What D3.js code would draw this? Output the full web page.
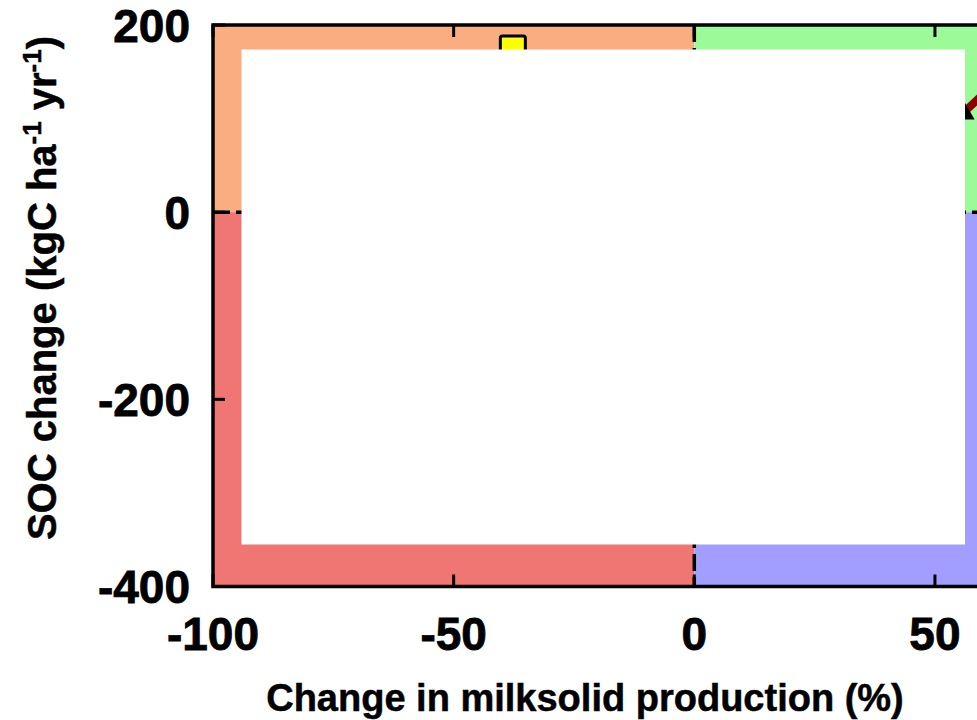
<!DOCTYPE html>
<html><head><meta charset="utf-8">
<script src="https://cdn.jsdelivr.net/npm/d3@7"></script>
<style>html,body{margin:0;padding:0;background:#fff;overflow:hidden}svg{display:block}</style>
</head><body>
<script>
// Data
const xTicks = [-100, -50, 0, 50, 100];
const yTicks = [-400, -200, 0, 200];
const xDomain = [-100, 100];
const yDomain = [-400, 200];
const quadrants = [
  {x0: -100, x1: 0, y0: 0, y1: 200, color: "#FBAD82"},
  {x0: 0, x1: 100, y0: 0, y1: 200, color: "#9CFB98"},
  {x0: -100, x1: 0, y0: -400, y1: 0, color: "#EF7673"},
  {x0: 0, x1: 100, y0: -400, y1: 0, color: "#A29EFF"}
];
const squarePoints = [{x: -37.7, y: 175}];
const linePoints = [{x: 55.9, y: 106}, {x: 70, y: 175}];
const xTitle = "Change in milksolid production (%)";

const W = 977, H = 720;
const svg = d3.select("body").append("svg").attr("width", W).attr("height", H);
const x = d3.scaleLinear().domain(xDomain).range([213, 1175.6]);
const y = d3.scaleLinear().domain(yDomain).range([586.5, 25]);

// quadrants
svg.selectAll("rect.q").data(quadrants).enter().append("rect")
  .attr("x", d => x(d.x0)).attr("y", d => y(d.y1))
  .attr("width", d => x(d.x1) - x(d.x0)).attr("height", d => y(d.y0) - y(d.y1))
  .attr("fill", d => d.color);

// zero lines dashed
svg.append("line").attr("x1", x(-100)).attr("x2", x(100)).attr("y1", y(0)).attr("y2", y(0))
  .attr("stroke", "#000").attr("stroke-width", 3.5).attr("stroke-dasharray", "17,6");
svg.append("line").attr("y1", y(200)).attr("y2", y(-400)).attr("x1", x(0)).attr("x2", x(0))
  .attr("stroke", "#000").attr("stroke-width", 3.5).attr("stroke-dasharray", "17,6");

// line series
svg.append("path").datum(linePoints)
  .attr("d", d3.line().x(d => x(d.x)).y(d => y(d.y)))
  .attr("fill", "none").attr("stroke", "#8B0000").attr("stroke-width", 8);
svg.selectAll("path.tri").data(linePoints.slice(0,1)).enter().append("path")
  .attr("transform", d => `translate(${x(d.x)},${y(d.y)})`)
  .attr("d", d3.symbol().type(d3.symbolTriangle).size(220))
  .attr("fill", "#000");

// square markers
svg.selectAll("rect.sq").data(squarePoints).enter().append("rect")
  .attr("x", d => x(d.x) - 12.5).attr("y", d => y(d.y) - 12.5)
  .attr("width", 25).attr("height", 25).attr("rx", 2)
  .attr("fill", "#FFFF00").attr("stroke", "#000").attr("stroke-width", 3);

// white occluding box
svg.append("rect").attr("x", 241.5).attr("y", 49.5).attr("width", 723.5).attr("height", 495).attr("fill", "#fff");

// inner ticks
const tl = 12;
const g = svg.append("g").attr("stroke", "#000").attr("stroke-width", 3);
xTicks.forEach(t => {
  g.append("line").attr("x1", x(t)).attr("x2", x(t)).attr("y1", y(200)).attr("y2", y(200) + tl);
  g.append("line").attr("x1", x(t)).attr("x2", x(t)).attr("y1", y(-400)).attr("y2", y(-400) - tl);
});
yTicks.forEach(t => {
  g.append("line").attr("x1", x(-100)).attr("x2", x(-100) + tl).attr("y1", y(t)).attr("y2", y(t));
});

// frame
svg.append("rect").attr("x", x(-100)).attr("y", y(200)).attr("width", x(100) - x(-100)).attr("height", y(-400) - y(200))
  .attr("fill", "none").attr("stroke", "#000").attr("stroke-width", 3.5);

const font = "'Liberation Sans', Arial, sans-serif";
// tick labels
svg.selectAll("text.yt").data(yTicks).enter().append("text")
  .attr("x", 190).attr("y", d => y(d)).attr("dy", "0.36em")
  .attr("text-anchor", "end").attr("font-family", font).attr("font-weight", "bold").attr("font-size", 46)
  .attr("stroke", "#000").attr("stroke-width", 0.8)
  .text(d => d);
svg.selectAll("text.xt").data(xTicks.filter(t => x(t) < W - 20)).enter().append("text")
  .attr("x", d => x(d)).attr("y", 650)
  .attr("text-anchor", "middle").attr("font-family", font).attr("font-weight", "bold").attr("font-size", 46)
  .attr("stroke", "#000").attr("stroke-width", 0.8)
  .text(d => d);

// axis titles
svg.append("text").attr("x", 585).attr("y", 711).attr("text-anchor", "middle")
  .attr("font-family", font).attr("font-weight", "bold").attr("font-size", 38)
  .attr("stroke", "#000").attr("stroke-width", 0.5).text(xTitle);
const yt = svg.append("text").attr("transform", "translate(56,288) rotate(-90)").attr("text-anchor", "middle")
  .attr("font-family", font).attr("font-weight", "bold").attr("font-size", 40)
  .attr("stroke", "#000").attr("stroke-width", 0.5);
yt.append("tspan").text("SOC change (kgC ha");
yt.append("tspan").attr("dy", -15).attr("font-size", 26).text("-1");
yt.append("tspan").attr("dy", 15).text(" yr");
yt.append("tspan").attr("dy", -15).attr("font-size", 26).text("-1");
yt.append("tspan").attr("dy", 15).text(")");
</script>
</body></html>
